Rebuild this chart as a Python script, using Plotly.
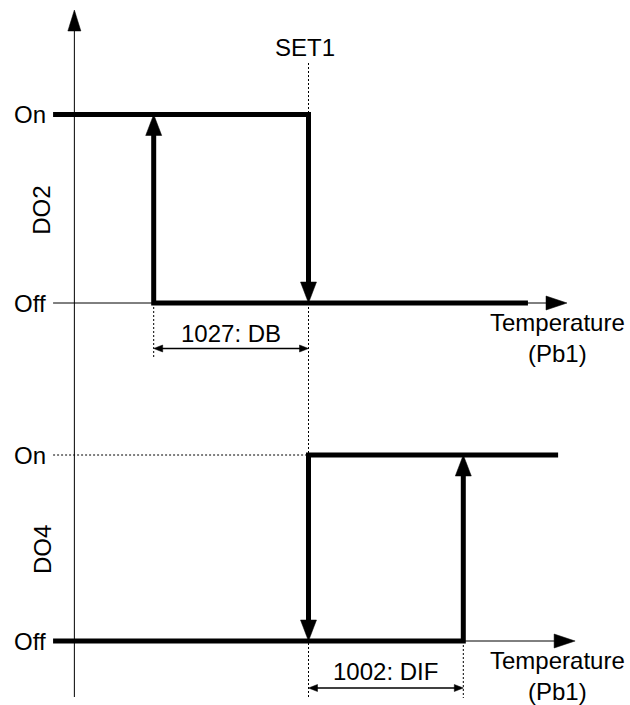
import plotly.graph_objects as go

# ---------------- data ----------------
SET1 = 10.0          # set point (temperature units)
DB = 4.0             # 1027: dead band (DO2 switches on at SET1 - DB)
DIF = 4.0            # 1002: differential (DO4 switches on at SET1 + DIF)
outputs = ["DO2", "DO4"]
state_labels = ["Off", "On"]
state_values = [0, 1]
setpoint_label = "SET1"
band_labels = ["1027: DB", "1002: DIF"]
axis_title = "Temperature<br>(Pb1)"

# drawing extents along the temperature axis
T_START = 3.4
T_VAXIS = 3.95
T_THICK_END = [15.67, 16.45]
T_AXIS_END = [16.68, 16.89]

# ---------------- scales ----------------
W, H = 630, 705
PX_PER_T = 38.7
X_SET1_PX = 308.5
xr = [SET1 - X_SET1_PX / PX_PER_T, SET1 + (W - X_SET1_PX) / PX_PER_T]
PANEL = [(303.0, 114.5), (641.0, 455.0)]  # (Off px, On px)


def dx(p):
    return p / PX_PER_T


def ppu(k):
    off, on = PANEL[k]
    return off - on


def ypx(k, p):
    off, on = PANEL[k]
    return (off - p) / ppu(k)


def dy(k, p):
    return p / ppu(k)


def yrange(k):
    off, on = PANEL[k]
    return [-(H - off) / ppu(k), 1 + on / ppu(k)]


FONT = dict(family="Liberation Sans, Arial, sans-serif", size=24, color="black")
yax = ["y", "y2"]

fig = go.Figure()


def line(k, xs, ys, width=1, dash=None):
    fig.add_trace(go.Scatter(
        x=xs, y=ys, mode="lines", yaxis=yax[k], hoverinfo="skip",
        line=dict(color="black", width=width, dash=dash), showlegend=False))


def head(k, tx, ty, direction, length, width):
    L, Wd = length, width / 2.0
    if direction == "up":
        xs = [tx, tx - dx(Wd), tx + dx(Wd), tx]
        ys = [ty, ty - dy(k, L), ty - dy(k, L), ty]
    elif direction == "down":
        xs = [tx, tx - dx(Wd), tx + dx(Wd), tx]
        ys = [ty, ty + dy(k, L), ty + dy(k, L), ty]
    elif direction == "right":
        xs = [tx, tx - dx(L), tx - dx(L), tx]
        ys = [ty, ty + dy(k, Wd), ty - dy(k, Wd), ty]
    else:  # left
        xs = [tx, tx + dx(L), tx + dx(L), tx]
        ys = [ty, ty + dy(k, Wd), ty - dy(k, Wd), ty]
    fig.add_trace(go.Scatter(
        x=xs, y=ys, mode="lines", fill="toself", fillcolor="black",
        line=dict(color="black", width=0.5), yaxis=yax[k],
        hoverinfo="skip", showlegend=False))


def text(k, xp, yp, s, angle=0, xanchor="center"):
    fig.add_annotation(x=xp, y=yp, xref="x", yref=yax[k], text=s,
                       showarrow=False, font=FONT, textangle=angle,
                       xanchor=xanchor, yanchor="middle")


DOT = "2px,2px"
HL, HW = 21, 16        # thick arrow head
AL, AW = 21, 14        # axis arrow head
DL, DW = 9, 7          # dimension arrow head

# set point dotted line through both panels
line(0, [SET1, SET1], [ypx(0, 63), ypx(0, 698)], 1, DOT)
# vertical axis
line(0, [T_VAXIS, T_VAXIS], [ypx(0, 697), ypx(0, 10 + AL - 1)], 1)
head(0, T_VAXIS, ypx(0, 10), "up", AL, 13)
text(0, SET1 - dx(3.5), ypx(0, 47), setpoint_label)

# ---------------- DO2 (panel 0) ----------------
k = 0
on_t, off_t = SET1 - DB, SET1
line(k, [T_START, on_t], [0, 0], 1)
line(k, [on_t, on_t], [0, ypx(k, 358)], 1, DOT)
line(k, [T_START, off_t, off_t], [1, 1, 0 + dy(k, HL - 2)], 5)
head(k, off_t, 0, "down", HL, HW)
line(k, [T_THICK_END[k], on_t, on_t], [0, 0, 1 - dy(k, HL - 2)], 5)
head(k, on_t, 1, "up", HL, HW)
line(k, [T_THICK_END[k] - dx(1), T_AXIS_END[k] - dx(AL - 1)], [0, 0], 1)
head(k, T_AXIS_END[k], 0, "right", AL, AW)
yd = ypx(k, 348.5)
line(k, [on_t + dx(DL - 1), off_t - dx(DL - 1)], [yd, yd], 1.3)
head(k, on_t, yd, "left", DL, DW)
head(k, off_t, yd, "right", DL, DW)
text(k, (on_t + off_t) / 2, ypx(k, 333), band_labels[0])

# ---------------- DO4 (panel 1) ----------------
k = 1
on_t, off_t = SET1 + DIF, SET1
line(k, [T_START, off_t], [1, 1], 1, DOT)
line(k, [on_t, on_t], [0, ypx(k, 698)], 1, DOT)
line(k, [T_START, on_t, on_t], [0, 0, 1 - dy(k, HL - 2)], 5)
head(k, on_t, 1, "up", HL, HW)
line(k, [T_THICK_END[k], off_t, off_t], [1, 1, 0 + dy(k, HL - 2)], 5)
head(k, off_t, 0, "down", HL, HW)
line(k, [on_t, T_AXIS_END[k] - dx(AL - 1)], [0, 0], 1)
head(k, T_AXIS_END[k], 0, "right", AL, AW)
yd = ypx(k, 688)
line(k, [off_t + dx(DL - 1), on_t - dx(DL - 1)], [yd, yd], 1.3)
head(k, off_t, yd, "left", DL, DW)
head(k, on_t, yd, "right", DL, DW)
text(k, (on_t + off_t) / 2, ypx(k, 671), band_labels[1])

# state labels, output names, axis titles
for k in range(2):
    for lab, val in zip(state_labels, state_values):
        text(k, xr[0] + dx(12), val, lab, xanchor="left")
    off, on = PANEL[k]
    text(k, xr[0] + dx(42), ypx(k, (off + on) / 2 + 2), outputs[k], angle=-90)
    text(k, xr[0] + dx(557), ypx(k, off + 35), axis_title)

fig.update_layout(
    width=W, height=H, margin=dict(l=0, r=0, t=0, b=0),
    paper_bgcolor="white", plot_bgcolor="white", showlegend=False,
    xaxis=dict(range=xr, visible=False, domain=[0, 1]),
    yaxis=dict(range=yrange(0), visible=False, domain=[0, 1]),
    yaxis2=dict(range=yrange(1), visible=False, overlaying="y"),
)

fig.write_html(
    "out.html",
    config={"displayModeBar": False, "staticPlot": True},
    post_script="document.body.style.margin='0';"
                "document.body.style.overflow='hidden';",
)
